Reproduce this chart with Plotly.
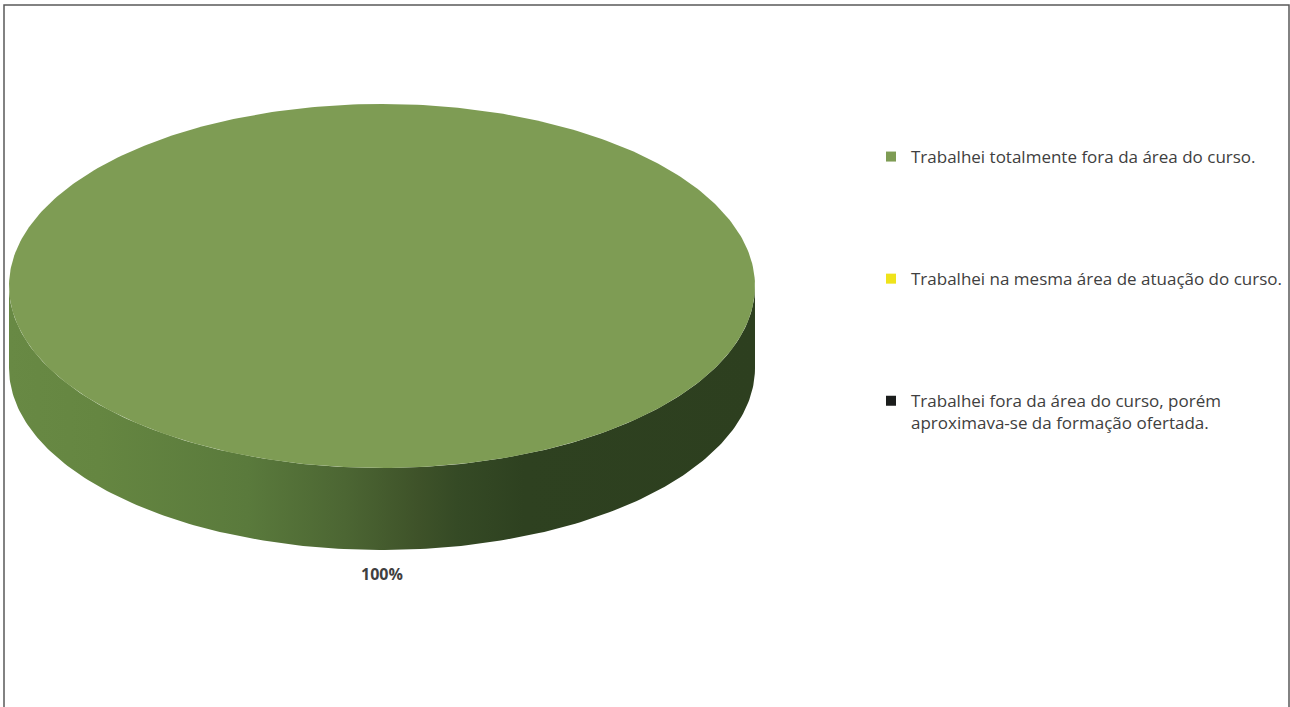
import numpy as np
import plotly.graph_objects as go

# ---- data ----
categories = [
    "Trabalhei totalmente fora da área do curso.",
    "Trabalhei na mesma área de atuação do curso.",
    "Trabalhei fora da área do curso, porém<br>aproximava-se da formação ofertada.",
]
values = [100, 0, 0]
colors = ["#7e9c54", "#efe31b", "#1b1d1c"]
side_scales = [
    [[0.0, "#688944"], [0.12, "#658641"], [0.32, "#5a7a3c"], [0.45, "#4c6633"],
     [0.55, "#3e5229"], [0.60, "#354a25"], [0.69, "#2e4120"], [1.0, "#2d3f1f"]],
    [[0.0, "#d8cc18"], [1.0, "#8a8210"]],
    [[0.0, "#2a2c2b"], [1.0, "#0d0e0e"]],
]

# ---- geometry (pixel space) ----
W, H = 1290, 707
CX, CY, RX, RY, DEPTH = 382, 286, 373, 182, 82


def pt(theta_deg, dy=0.0):
    t = np.radians(theta_deg)
    return CX + RX * np.sin(t), CY - RY * np.cos(t) + dy


fig = go.Figure()
total = float(sum(values))
start = 0.0
slices = []
for cat, v, col, sc in zip(categories, values, colors, side_scales):
    span = 360.0 * v / total
    slices.append((cat, v, col, sc, start, start + span))
    start += span

# side walls (front half only: 90..270 deg)
for cat, v, col, sc, a, b in slices:
    if v <= 0:
        continue
    lo, hi = max(a, 90.0), min(b, 270.0)
    if hi <= lo:
        continue
    th = np.linspace(lo, hi, 200)
    xt, yt = pt(th)
    xb, yb = pt(th[::-1], DEPTH)
    fig.add_trace(go.Scatter(
        x=np.concatenate([xt, xb, xt[:1]]), y=np.concatenate([yt, yb, yt[:1]]),
        mode="lines", fill="toself", line=dict(width=0),
        fillgradient=dict(type="horizontal", colorscale=sc),
        hoverinfo="skip", showlegend=False))

# top faces
for cat, v, col, sc, a, b in slices:
    if v <= 0:
        continue
    th = np.linspace(a, b, 400)
    xs, ys = pt(th)
    if b - a < 360:
        xs = np.concatenate([[CX], xs, [CX]])
        ys = np.concatenate([[CY], ys, [CY]])
    fig.add_trace(go.Scatter(
        x=xs, y=ys, mode="lines", fill="toself", fillcolor=col,
        line=dict(width=0), hoverinfo="skip", showlegend=False))

# data labels
for cat, v, col, sc, a, b in slices:
    if v <= 0:
        continue
    mid = (a + b) / 2.0
    lx, ly = pt(mid)
    if 90 < mid < 270:
        ly += DEPTH
    off = 24
    t = np.radians(mid)
    fig.add_annotation(x=lx + off * np.sin(t), y=ly - off * np.cos(t),
                       text=f"<b>{round(100 * v / total)}%</b>", showarrow=False,
                       font=dict(size=16, color="#404040", family="Open Sans"),
                       xref="x", yref="y")

# legend entries
for i, (cat, col) in enumerate(zip(categories, colors)):
    fig.add_trace(go.Scatter(
        x=[None], y=[None], mode="markers", name=cat, legendgroup=f"g{i}",
        marker=dict(symbol="square", size=10, color=col)))

fig.update_layout(
    width=W, height=H,
    margin=dict(l=0, r=0, t=0, b=0),
    paper_bgcolor="white", plot_bgcolor="white",
    xaxis=dict(range=[0, W], visible=False, fixedrange=True),
    yaxis=dict(range=[H, 0], visible=False, fixedrange=True),
    showlegend=True,
    legend=dict(x=871 / W, y=1 - 139 / H, xanchor="left", yanchor="top",
                font=dict(size=17, color="#404040", family="Open Sans"),
                tracegroupgap=97, valign="top", bgcolor="rgba(0,0,0,0)"),
    shapes=[dict(type="rect", xref="paper", yref="paper",
                 x0=4 / W, x1=1289 / W, y0=-0.05, y1=1 - 5 / H,
                 line=dict(color="#595959", width=1.5))],
)

fig.write_html("out.html", config={"displayModeBar": False},
               post_script="document.body.style.margin='0';")
